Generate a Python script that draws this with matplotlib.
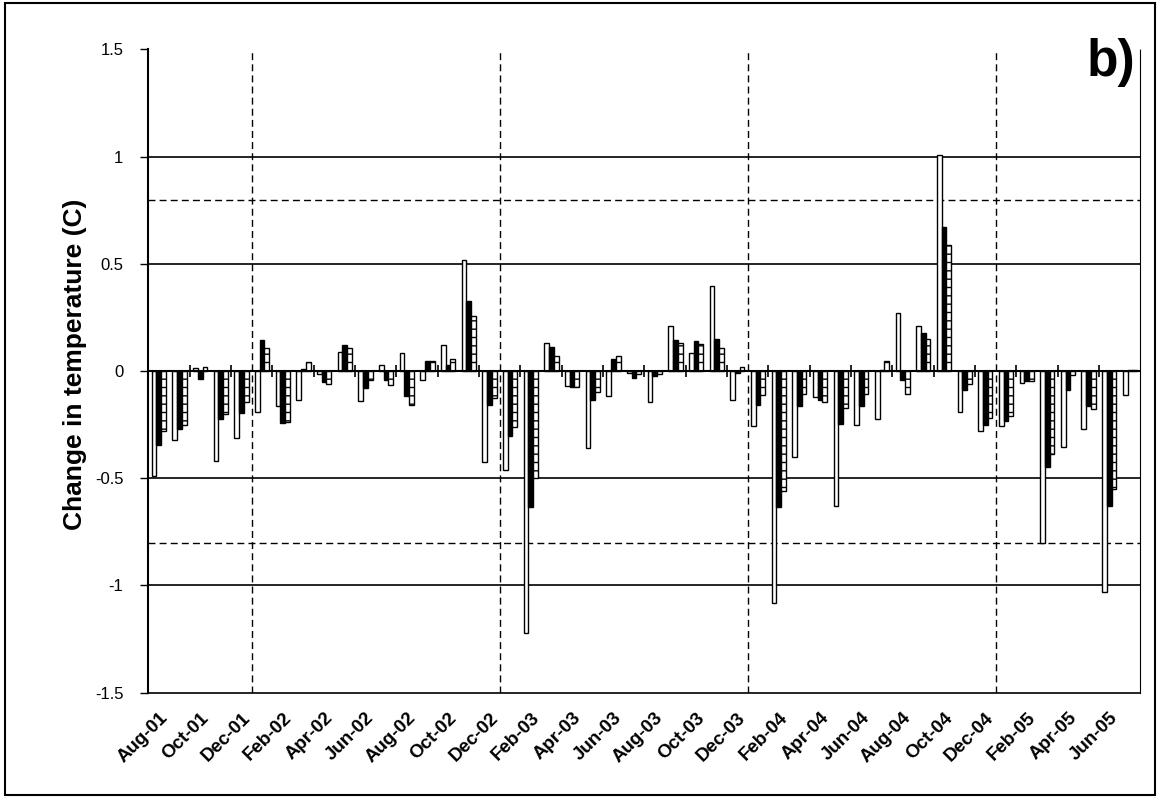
import numpy as np
import matplotlib.pyplot as plt
from matplotlib.patches import Rectangle
from matplotlib.transforms import ScaledTranslation

months = ['Aug-01', 'Sep-01', 'Oct-01', 'Nov-01', 'Dec-01',
          'Jan-02', 'Feb-02', 'Mar-02', 'Apr-02', 'May-02', 'Jun-02',
          'Jul-02', 'Aug-02', 'Sep-02', 'Oct-02', 'Nov-02', 'Dec-02',
          'Jan-03', 'Feb-03', 'Mar-03', 'Apr-03', 'May-03', 'Jun-03',
          'Jul-03', 'Aug-03', 'Sep-03', 'Oct-03', 'Nov-03', 'Dec-03',
          'Jan-04', 'Feb-04', 'Mar-04', 'Apr-04', 'May-04', 'Jun-04',
          'Jul-04', 'Aug-04', 'Sep-04', 'Oct-04', 'Nov-04', 'Dec-04',
          'Jan-05', 'Feb-05', 'Mar-05', 'Apr-05', 'May-05', 'Jun-05',
          'Jul-05']

# white bars
series_a = [-0.49, -0.32, 0.015, -0.42, -0.31, -0.19, -0.165, -0.135,
            -0.015, 0.09, -0.14, 0.03, 0.085, -0.04, 0.12, 0.52, -0.425,
            -0.46, -1.22, 0.13, -0.07, -0.36, -0.115, -0.01, -0.145, 0.21,
            0.085, 0.395, -0.135, -0.255, -1.08, -0.40, -0.12, -0.63,
            -0.25, -0.225, 0.27, 0.21, 1.01, -0.19, -0.28, -0.255, -0.055,
            -0.80, -0.355, -0.27, -1.03, -0.11]
# black bars
series_b = [-0.345, -0.27, -0.035, -0.225, -0.195, 0.145, -0.24, 0.01,
            -0.052, 0.12, -0.078, -0.04, -0.117, 0.049, 0.026, 0.325,
            -0.16, -0.305, -0.635, 0.112, -0.075, -0.133, 0.057, -0.03,
            -0.024, 0.143, 0.139, 0.151, -0.01, -0.156, -0.636, -0.164,
            -0.133, -0.246, -0.164, 0.005, -0.043, 0.178, 0.674, -0.086,
            -0.252, -0.233, -0.044, -0.446, -0.086, -0.164, -0.629, 0.005]
# dashed bars
series_c = [-0.28, -0.25, 0.018, -0.20, -0.145, 0.108, -0.238, 0.041,
            -0.058, 0.106, -0.04, -0.063, -0.16, 0.046, 0.056, 0.255,
            -0.125, -0.262, -0.497, 0.072, -0.075, -0.097, 0.069, -0.015,
            -0.013, 0.131, 0.126, 0.108, 0.02, -0.112, -0.559, -0.105,
            -0.145, -0.171, -0.109, 0.046, -0.106, 0.151, 0.589, -0.06,
            -0.218, -0.21, -0.044, -0.385, -0.019, -0.179, -0.551, 0.005]

yticks = [-1.5, -1, -0.5, 0, 0.5, 1, 1.5]
ytick_labels = ['-1.5', '-1', '-0.5', '0', '0.5', '1', '1.5']
solid_levels = [-1, -0.5, 0.5, 1]
dashed_levels = [-0.8, 0.8]

plt.rcParams['font.family'] = ['Liberation Sans', 'DejaVu Sans']
plt.rcParams['hatch.linewidth'] = 1.0

fig = plt.figure(figsize=(11.6, 7.98), dpi=100)
ax = fig.add_axes([0.128, 0.132, 0.855, 0.806])

x = np.arange(len(months))
w = 0.23
ax.bar(x - w, series_a, w, color='white', edgecolor='black', lw=1.0, zorder=3)
ax.bar(x, series_b, w, color='black', edgecolor='black', lw=1.0, zorder=3)
ax.bar(x + w, series_c, w, color='white', edgecolor='black', lw=1.0,
       hatch='--', zorder=3)

for lv in solid_levels:
    ax.axhline(lv, color='black', lw=1.2, zorder=1)
for lv in dashed_levels:
    ax.axhline(lv, color='black', lw=1.0, ls=(0, (5, 3)), zorder=1)
ax.axhline(0, color='black', lw=1.5, zorder=4)

# year separators at January
for i, m in enumerate(months):
    if m.startswith('Jan'):
        ax.axvline(i - 0.5, color='black', lw=1.0, ls=(0, (5, 3)), zorder=1)

# category tick marks on the zero line every two months
tick_pos = x[::2][1:] - 0.5
ax.plot(tick_pos, np.zeros(len(tick_pos)), ls='none', marker='|',
        ms=9, mew=1.2, color='black', zorder=5)

ax.set_xlim(-0.5, len(months) - 0.5)
ax.set_ylim(-1.5, 1.5)
ax.set_yticks(yticks)
ax.set_yticklabels(ytick_labels, fontsize=12)
ax.set_xticks(x[::2])
ax.set_xticklabels(months[::2], rotation=45, ha='right',
                   rotation_mode='anchor', fontsize=13.5, fontweight='bold')
shift = ScaledTranslation(-0.12, 0, fig.dpi_scale_trans)
for lab in ax.get_xticklabels():
    lab.set_transform(lab.get_transform() + shift)
ax.tick_params(axis='x', length=0, pad=12)
ax.tick_params(axis='y', length=6, width=1, direction='out', pad=12)

ax.spines['top'].set_visible(False)
ax.spines['left'].set_linewidth(1.5)
ax.spines['bottom'].set_linewidth(1.2)
ax.spines['right'].set_linewidth(0.8)
ax.spines['right'].set_linestyle((0, (1, 1)))

ax.set_ylabel('Change in temperature (C)', fontsize=19, fontweight='bold')
ax.yaxis.set_label_coords(-0.062, 0.51)

fig.text(0.979, 0.953, 'b)', ha='right', va='top',
         fontsize=37, fontweight='heavy')

fig.patches.append(Rectangle((0.004, 0.004), 0.992, 0.992,
                             transform=fig.transFigure, fill=False,
                             edgecolor='black', lw=1.5))

fig.savefig('out.png', dpi=100)
